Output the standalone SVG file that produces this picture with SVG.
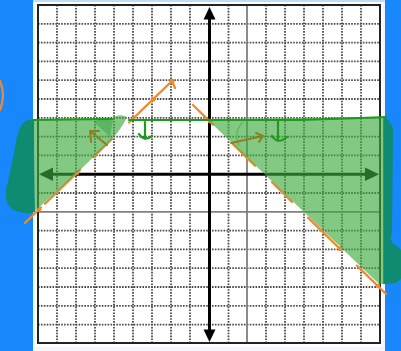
<svg xmlns="http://www.w3.org/2000/svg" width="401" height="351" viewBox="0 0 401 351">
<style>
.g{stroke:#4a4a4a;stroke-width:1.8;stroke-dasharray:1.6 1.3;fill:none}
.gs{stroke:#808080;stroke-width:1.8;fill:none}
.ax{stroke:#000;stroke-width:3}
.ah{fill:#000}
.hl{fill:#3DAA3D;fill-opacity:0.64}
.hb{fill:#0E8B70}
.hd{fill:#2E9E3E;fill-opacity:0.45}
.or{stroke:#EE8A2E;stroke-width:2.3;stroke-linecap:round;fill:none}
.od{fill:#EE8A2E}
.gr{stroke:#1E9A1E;stroke-width:2.2;fill:none;stroke-linecap:round;stroke-linejoin:round}
.ol{stroke:#8C7F22;stroke-width:2;fill:none;stroke-linecap:round;stroke-linejoin:round}
</style>
<rect width="401" height="351" fill="#1787FB"/>
<g id="paper">
<rect x="33" y="0" width="352" height="351" fill="#F2F6FA"/>
<rect x="33" y="0" width="352" height="2" fill="#BFDDFB"/>
<rect x="35" y="2" width="348" height="345" fill="#fff"/>
</g>
<g id="grid">
<path class="g" d="M57,5V343M76,5V343M95,5V343M114,5V343M133,5V343M152,5V343M171,5V343M190,5V343M228.5,5V343M266,5V343M285,5V343M304,5V343M323,5V343M342,5V343M361,5V343"/>
<path class="g" d="M38,23.8H380M38,42.6H380M38,61.4H380M38,80.2H380M38,99H380M38,117.8H380M38,136.6H380M38,155.4H380M38,193H380M38,230.6H380M38,249.4H380M38,268.2H380M38,287H380M38,305.8H380M38,324.6H380"/>
<path class="gs" d="M247,5V343M38,211.8H380"/>
<rect x="38" y="5" width="342" height="338" fill="none" stroke="#222" stroke-width="2"/>
</g>
<g id="axes">
<line class="ax" x1="48" y1="174.2" x2="370" y2="174.2"/>
<polygon class="ah" points="39,174.2 53,167.5 53,181"/>
<polygon class="ah" points="379,174.2 365,167.5 365,181"/>
<line class="ax" x1="209.5" y1="16" x2="209.5" y2="332"/>
<polygon class="ah" points="209.5,7 203.5,19.5 215.5,19.5"/>
<polygon class="ah" points="209.5,342 203.5,329.5 215.5,329.5"/>
</g>
<g id="boundary-lines">
<path class="or" d="M25,223L41,207.5M45,203.7L80,169.9M93,157.3L112,139M129,122.5L172,81L175,88"/>
<path class="or" d="M193,105L213,124.6M232,143.2L255,165.7M272,182.3L292,201.9M308,217.6L338,247M357,265.6L386,294"/>
<circle class="od" cx="172" cy="81" r="2.6"/>
<circle class="od" cx="153" cy="99.4" r="2.3"/>
<circle class="od" cx="77" cy="172.8" r="2.3"/>
<circle class="od" cx="39" cy="209.5" r="2.3"/>
<circle class="od" cx="210" cy="121" r="2.3"/>
<circle class="od" cx="340" cy="248.9" r="2.3"/>
<circle class="od" cx="378" cy="286" r="2.3"/>
<path class="or" d="M0,81Q6,95 0,110" stroke-width="1.6"/>
</g>
<g id="shading">
<path class="hb" d="M34,120L35,212Q24,215 13,210Q4,203 6,190L11,168L16,142Q19,123 28,120Z"/>
<path class="hb" d="M383,117Q393,121 393,133L392,232Q388,242 397,246L401,250L401,279Q396,285 384,284L383,284Z"/>
<path class="hl" d="M34,119L112,118Q119,113 127,117Q121,130 111,140L78,172L48,199Q41,206 35,211Z"/>
<path class="hl" d="M207,119L384,117L384,284L379,284Z"/>
<path class="hd" d="M110,137L94,122Q102,117 113,119Z"/>
</g>
<g id="marks">
<path class="gr" d="M33,120L112,119M129,120L300,120Q350,118.5 386,117"/>
<path class="gr" d="M145,122L145,139M139,134Q144,142 152,136"/>
<path class="gr" d="M278,120L278,141M272,136Q278,145 287,137"/>
<path d="M243,122Q233,132 239,146" stroke="#5DBB5D" stroke-width="1.5" fill="none"/>
<path class="ol" d="M107,145L91,132M91,142L90,131L99,131"/>
<path class="ol" d="M231,143L263,136M256,133L263,136L259,142"/>
</g>
</svg>
